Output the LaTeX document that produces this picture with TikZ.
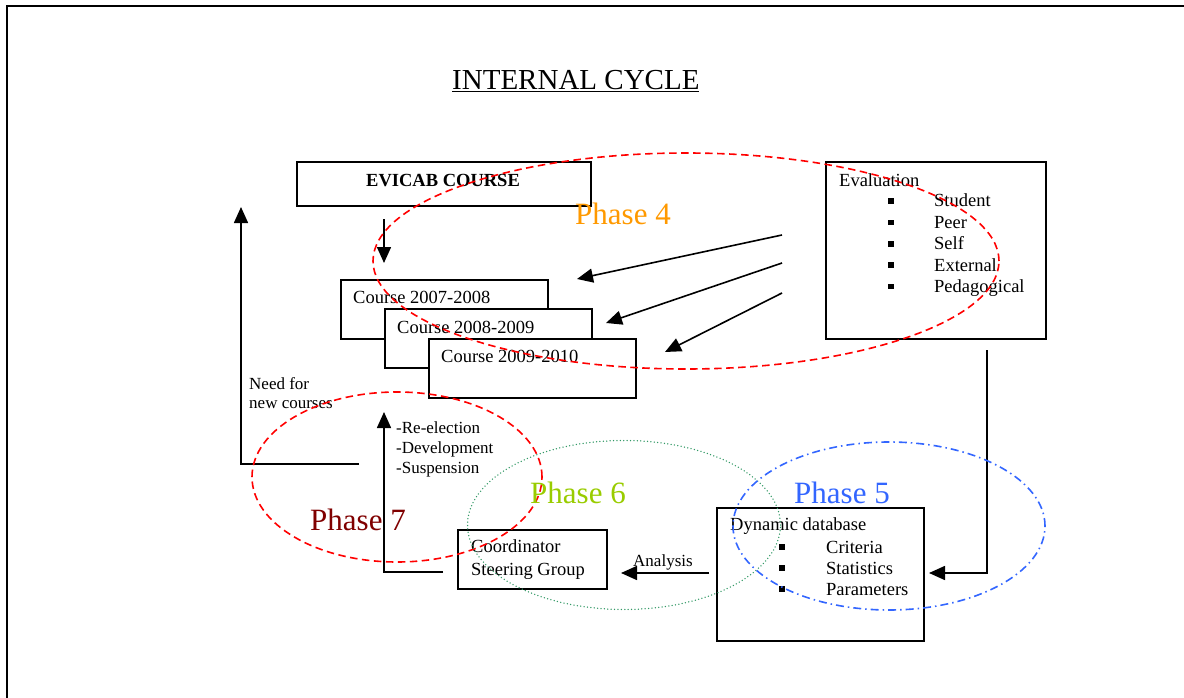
\documentclass[tikz,border=0pt]{standalone}
\usepackage{fontspec}
\setmainfont{Liberation Serif}
\usetikzlibrary{arrows.meta,shapes.geometric}
\definecolor{ph4}{HTML}{FF9900}
\definecolor{ph5}{HTML}{3366FF}
\definecolor{ph6}{HTML}{99CC00}
\definecolor{ph7}{HTML}{800000}
\definecolor{grn}{HTML}{339966}
\begin{document}
\begin{tikzpicture}[x=1pt,y=-1pt,
  box/.style={draw, line width=1.8pt, inner sep=0pt, anchor=north west},
  conn/.style={line width=1.6pt, -{Triangle[length=16pt,width=14pt]}},
  txt/.style={inner sep=0pt, anchor=base west, font=\fontsize{18.5}{21}\selectfont},
  small/.style={inner sep=0pt, anchor=base west, font=\fontsize{17}{20}\selectfont},
  phase/.style={inner sep=0pt, anchor=base west, font=\fontsize{31}{36}\selectfont},
  bul/.style={fill, inner sep=0pt, minimum size=5.5pt},
  oval/.style={ellipse, inner sep=0pt, line width=1.6pt}]
\useasboundingbox (0,0) rectangle (1184,698);
% frame
\coordinate (fbl) at (7,698);
\coordinate (ftl) at (7,6);
\coordinate (ftr) at (1184,6);
\draw[line width=2.2pt] (fbl) -- (ftl) -- (ftr);

% title
\node[inner sep=0pt, anchor=base west, font=\fontsize{29}{34}\selectfont] (title) at (452,90) {\underline{INTERNAL CYCLE}};

% boxes
\node[box, minimum width=294pt, minimum height=44pt] (evicab) at (296,161) {};
\node[txt, font=\fontsize{18.5}{21}\selectfont\bfseries] (evicabt) at (366,186) {EVICAB COURSE};

\node[box, fill=white, minimum width=207pt, minimum height=59pt] (c1) at (340,279) {};
\node[txt] (c1t) at (353,303) {Course 2007-2008};
\node[box, fill=white, minimum width=207pt, minimum height=59pt] (c2) at (384,308) {};
\node[txt] (c2t) at (397,333) {Course 2008-2009};
\node[box, fill=white, minimum width=207pt, minimum height=59pt] (c3) at (428,338) {};
\node[txt] (c3t) at (441,362) {Course 2009-2010};

\node[box, minimum width=220pt, minimum height=177pt] (eval) at (825,161) {};
\node[txt] (evalt) at (839,186) {Evaluation};
\foreach \n/\t [count=\i from 0] in {s/Student,p/Peer,f/Self,x/External,g/Pedagogical}{
  \node[bul] (eb\n) at (891,{201+21.4*\i}) {};
  \node[txt] (et\n) at (934,{207+21.4*\i}) {\t};
}

\node[box, minimum width=149pt, minimum height=59pt] (coord) at (457,529) {};
\node[txt] (coordt1) at (471,552) {Coordinator};
\node[txt] (coordt2) at (471,575) {Steering Group};

\node[box, minimum width=207pt, minimum height=133pt] (db) at (716,507) {};
\node[txt] (dbt) at (730,530) {Dynamic database};
\foreach \n/\t [count=\i from 0] in {c/Criteria,s/Statistics,p/Parameters}{
  \node[bul] (db\n) at (782,{547+21*\i}) {};
  \node[txt] (dbt\n) at (826,{553+21*\i}) {\t};
}

% side texts
\node[small] (need1) at (249,389) {Need for};
\node[small] (need2) at (249,408) {new courses};
\node[small] (act1) at (396,433) {-Re-election};
\node[small] (act2) at (396,453) {-Development};
\node[small] (act3) at (396,473) {-Suspension};
\node[small] (anl) at (633,566) {Analysis};

% connectors
\coordinate (dA) at (384,219);
\coordinate (dB) at (384,263);
\draw[conn] (dA) -- (dB);

\coordinate (a1s) at (782,235); \coordinate (a1e) at (577,279);
\coordinate (a2s) at (782,263); \coordinate (a2e) at (606,323);
\coordinate (a3s) at (782,293); \coordinate (a3e) at (665,352);
\draw[conn] (a1s) -- (a1e);
\draw[conn] (a2s) -- (a2e);
\draw[conn] (a3s) -- (a3e);

\coordinate (evs) at (987,350);
\coordinate (dbin) at (929,573);
\draw[conn] (evs) |- (dbin);

\coordinate (ans) at (709,573);
\coordinate (ane) at (621,573);
\draw[conn] (ans) -- (ane);

\coordinate (cos) at (443,572);
\coordinate (coe) at (384,412);
\draw[conn] (cos) -| (coe);

\coordinate (nds) at (359,464);
\coordinate (nde) at (241,207);
\draw[conn] (nds) -| (nde);

% phase ellipses
\node[oval, draw=red, dash pattern=on 7.5pt off 4.5pt, minimum width=626pt, minimum height=216pt] (e4) at (686,261) {};
\node[oval, draw=red, dash pattern=on 7.5pt off 4.5pt, minimum width=290pt, minimum height=170pt] (e7) at (397,477) {};
\node[oval, draw=grn, line width=1.5pt, line cap=round, dash pattern=on 0pt off 3.4pt, minimum width=313pt, minimum height=169pt] (e6) at (624,525) {};
\node[oval, draw=ph5, dash pattern=on 8pt off 4pt on 1.5pt off 4pt, minimum width=312pt, minimum height=168pt] (e5) at (889,526) {};

% phase labels
\node[phase, text=ph4] (p4) at (575,224) {Phase 4};
\node[phase, text=ph6] (p6) at (530,503) {Phase 6};
\node[phase, text=ph5] (p5) at (794,503) {Phase 5};
\node[phase, text=ph7] (p7) at (310,530) {Phase 7};
\end{tikzpicture}
\end{document}
